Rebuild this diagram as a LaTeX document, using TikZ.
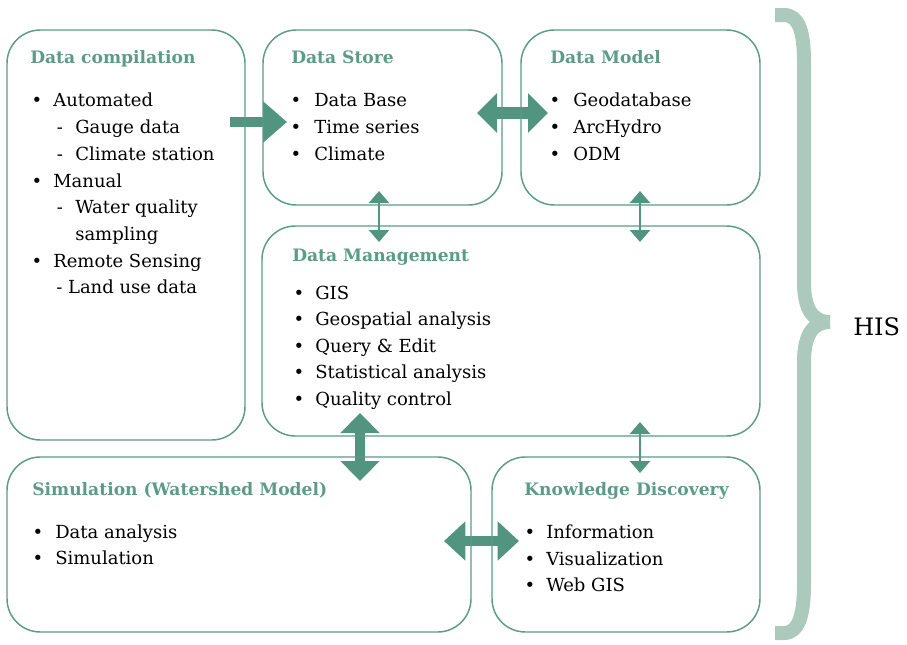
\documentclass[tikz,border=0pt]{standalone}
\usepackage{fontspec}
\setmainfont{DejaVu Serif}
\usetikzlibrary{arrows.meta,fit,backgrounds}
\definecolor{tealA}{HTML}{5B9B87}
\definecolor{tealB}{HTML}{519580}
\definecolor{braceC}{HTML}{ABC9BD}
\begin{document}
\begin{tikzpicture}[x=0.75pt,y=-0.75pt,
  box/.style={draw=tealA, line width=1.1pt, rounded corners=25pt, inner sep=0pt, rectangle},
  ttl/.style={anchor=base west, inner sep=0pt, font=\bfseries\fontsize{12.85}{15}\selectfont, text=tealA},
  txt/.style={anchor=base west, inner sep=0pt, font=\fontsize{13.5}{16}\selectfont},
  bul/.style={anchor=base, inner sep=0pt, font=\fontsize{13.5}{16}\selectfont},
  bigarrow/.style={draw=tealB, line width=#1},
  thinarrow/.style={draw=tealB, line width=1.9pt, {Triangle[length=9pt,width=15pt]}-{Triangle[length=9pt,width=15pt]}}
]
\useasboundingbox (0,0) rectangle (907,644);

% boxes
\node[box, fit={(7,30)(245,440)}] (dc) {};
\node[box, fit={(263,30)(502,205)}] (ds) {};
\node[box, fit={(521,30)(760,205)}] (dmod) {};
\node[box, fit={(262,226)(760,436)}] (dmg) {};
\node[box, fit={(7,457)(471,632)}] (sim) {};
\node[box, fit={(492,457)(760,632)}] (kd) {};

% Data compilation
\node[ttl] (dct) at (30,63) {Data compilation};
\node[bul] (dcb1) at (37,106.5) {\textbullet};
\node[txt] (dc1) at (53,106.5) {Automated};
\node[bul] (dcd2) at (60,133) {-};
\node[txt] (dc2) at (75,133) {Gauge data};
\node[bul] (dcd3) at (60,160) {-};
\node[txt] (dc3) at (75,160) {Climate station};
\node[bul] (dcb4) at (37,187) {\textbullet};
\node[txt] (dc4) at (53,187) {Manual};
\node[bul] (dcd5) at (60,213.5) {-};
\node[txt] (dc5) at (75,213.5) {Water quality};
\node[txt] (dc6) at (75,240) {sampling};
\node[bul] (dcb7) at (37,267) {\textbullet};
\node[txt] (dc7) at (53,267) {Remote Sensing};
\node[txt] (dc8) at (56,293.5) {- Land use data};

% Data Store
\node[ttl] (dst) at (291,63) {Data Store};
\node[bul] (dsb1) at (296,106.5) {\textbullet};
\node[txt] (ds1) at (314,106.5) {Data Base};
\node[bul] (dsb2) at (296,133) {\textbullet};
\node[txt] (ds2) at (314,133) {Time series};
\node[bul] (dsb3) at (296,160) {\textbullet};
\node[txt] (ds3) at (314,160) {Climate};

% Data Model
\node[ttl] (dmt) at (550,63) {Data Model};
\node[bul] (dmb1) at (555,106.5) {\textbullet};
\node[txt] (dm1) at (573,106.5) {Geodatabase};
\node[bul] (dmb2) at (555,133) {\textbullet};
\node[txt] (dm2) at (573,133) {ArcHydro};
\node[bul] (dmb3) at (555,160) {\textbullet};
\node[txt] (dm3) at (573,160) {ODM};

% Data Management
\node[ttl] (dgt) at (292,261) {Data Management};
\node[bul] (dgb1) at (299,299) {\textbullet};
\node[txt] (dg1) at (315,299) {GIS};
\node[bul] (dgb2) at (299,325.5) {\textbullet};
\node[txt] (dg2) at (315,325.5) {Geospatial analysis};
\node[bul] (dgb3) at (299,352) {\textbullet};
\node[txt] (dg3) at (315,352) {Query \& Edit};
\node[bul] (dgb4) at (299,378.5) {\textbullet};
\node[txt] (dg4) at (315,378.5) {Statistical analysis};
\node[bul] (dgb5) at (299,405) {\textbullet};
\node[txt] (dg5) at (315,405) {Quality control};

% Simulation
\node[ttl] (smt) at (32,495) {Simulation (Watershed Model)};
\node[bul] (smb1) at (38,538) {\textbullet};
\node[txt] (sm1) at (55,538) {Data analysis};
\node[bul] (smb2) at (38,564) {\textbullet};
\node[txt] (sm2) at (55,564) {Simulation};

% Knowledge Discovery
\node[ttl] (kdt) at (524,495) {Knowledge Discovery};
\node[bul] (kdb1) at (530,538.5) {\textbullet};
\node[txt] (kd1) at (546,538.5) {Information};
\node[bul] (kdb2) at (530,565) {\textbullet};
\node[txt] (kd2) at (546,565) {Visualization};
\node[bul] (kdb3) at (530,591.5) {\textbullet};
\node[txt] (kd3) at (546,591.5) {Web GIS};

% arrow end points
\coordinate (a1s) at (230,122);
\coordinate (a1e) at (287,122);
\coordinate (a2s) at (477,113);
\coordinate (a2e) at (548,113);
\coordinate (a3s) at (379,191);
\coordinate (a3e) at (379,242);
\coordinate (a4s) at (640,191);
\coordinate (a4e) at (640,242);
\coordinate (a5s) at (360,413);
\coordinate (a5e) at (360,481);
\coordinate (a6s) at (640,422);
\coordinate (a6e) at (640,473);
\coordinate (a7s) at (444,541);
\coordinate (a7e) at (519,541);

\begin{pgfonlayer}{background}
\draw[bigarrow=7.5pt, -{Triangle[length=18pt,width=30pt]}] (a1s) -- (a1e);
\draw[bigarrow=9pt, {Triangle[length=15pt,width=29pt]}-{Triangle[length=15pt,width=29pt]}] (a2s) -- (a2e);
\draw[thinarrow] (a3s) -- (a3e);
\draw[thinarrow] (a4s) -- (a4e);
\draw[bigarrow=7.5pt, {Triangle[length=15pt,width=28.5pt]}-{Triangle[length=15pt,width=28.5pt]}] (a5s) -- (a5e);
\draw[thinarrow] (a6s) -- (a6e);
\draw[bigarrow=8pt, {Triangle[length=16pt,width=28.5pt]}-{Triangle[length=16pt,width=28.5pt]}] (a7s) -- (a7e);
\end{pgfonlayer}

% brace
\draw[braceC, line width=10.5pt, line cap=butt, line join=round]
  (775,15) -- (784,15) .. controls (799,15) and (804,32) .. (804,62)
  -- (804,282) .. controls (804,308) and (812,322) .. (830,322);
\draw[braceC, line width=10.5pt, line cap=butt, line join=round]
  (830,322) .. controls (812,322) and (804,336) .. (804,362)
  -- (804,584) .. controls (804,614) and (799,633) .. (784,633) -- (775,633);
\node[anchor=west, inner sep=0pt, font=\fontsize{18}{21}\selectfont] (his) at (853,327) {HIS};
\end{tikzpicture}
\end{document}
